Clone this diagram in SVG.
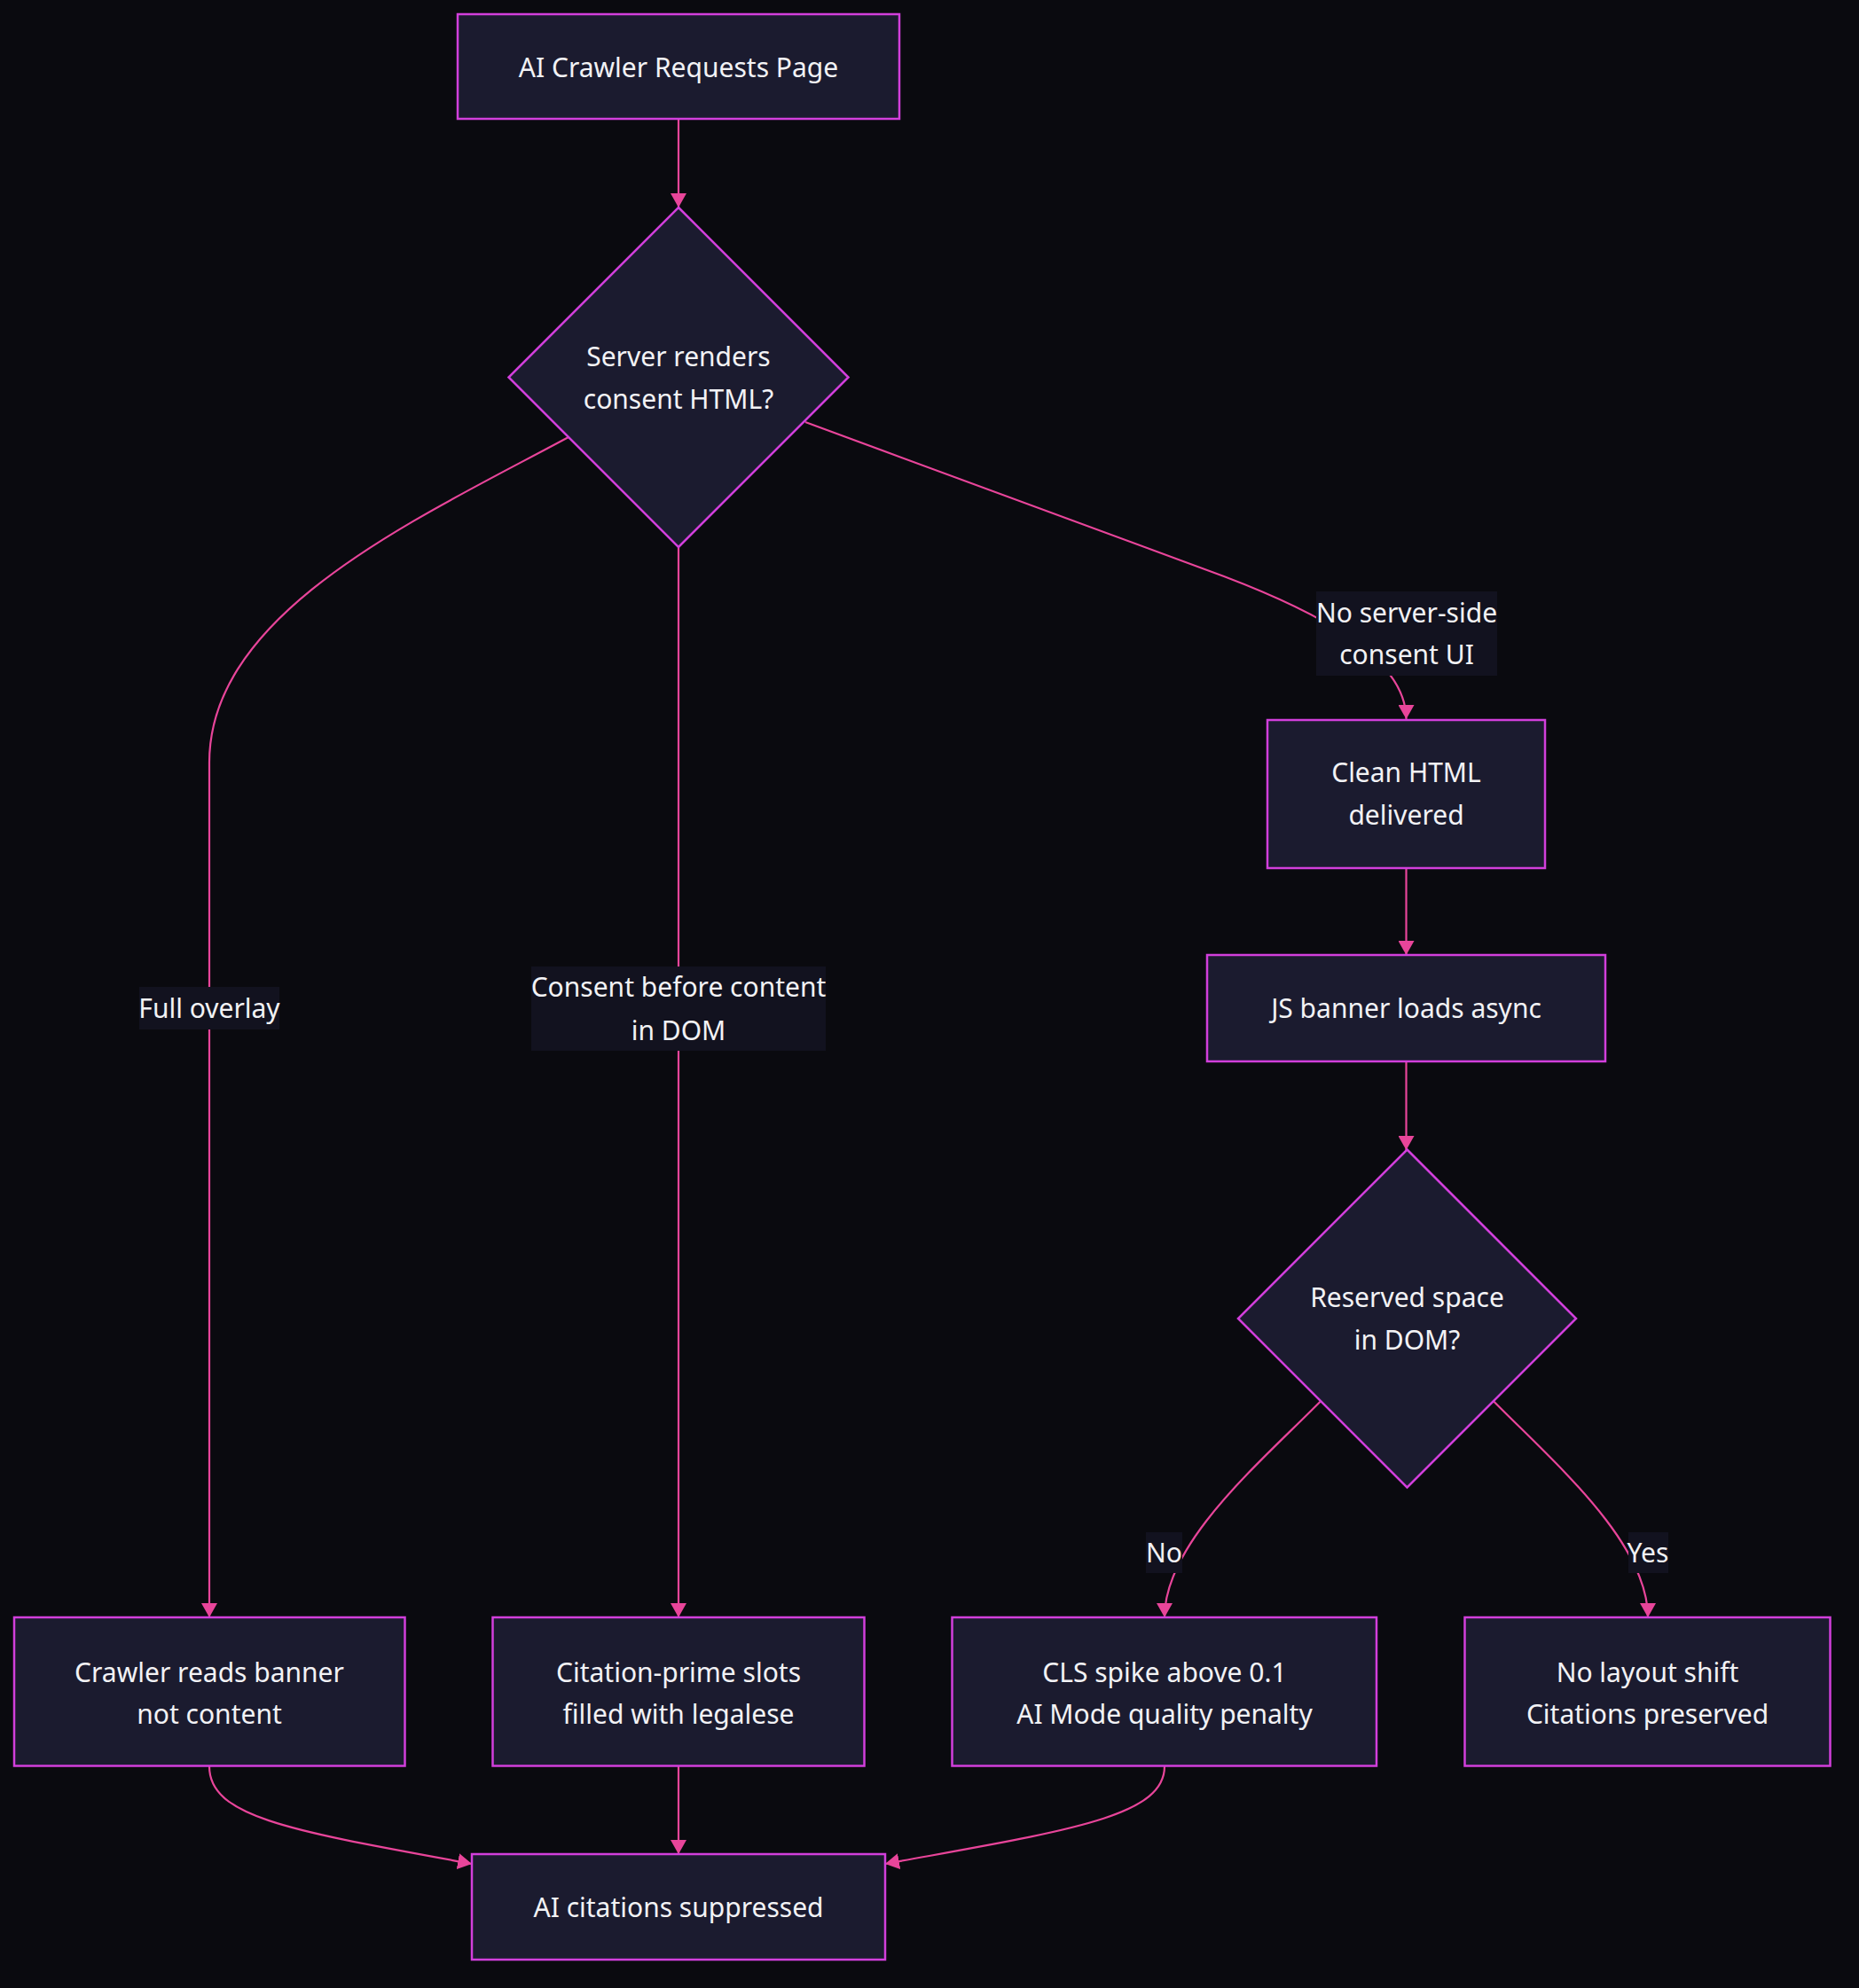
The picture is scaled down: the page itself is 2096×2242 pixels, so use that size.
<svg xmlns="http://www.w3.org/2000/svg" width="2096" height="2242" viewBox="0 0 2096 2242">
<style>
.node{fill:#1b1b2f;stroke:#d23fdc;stroke-width:2.5}
.t{font-family:"Noto Sans","Open Sans","Liberation Sans",sans-serif;font-size:30px;fill:#f2f2f5;text-anchor:middle}
.edge{fill:none;stroke:#e8459a;stroke-width:2.2}
.lbl{fill:#12121f}
</style>
<defs>
<marker id="arr" markerUnits="userSpaceOnUse" markerWidth="16" markerHeight="18" viewBox="0 0 15 17" refX="15" refY="8.5" orient="auto">
<path d="M0,0 L15,8.5 L0,17 z" fill="#e8459a"/>
</marker>
</defs>
<rect width="2096" height="2242" fill="#0a0a0f"/>
<g id="connectors">
<path class="edge" d="M765,134 L765,234" marker-end="url(#arr)"/>
<path class="edge" d="M641,493 C470,585 236,690 236,860 L236,1824" marker-end="url(#arr)"/>
<path class="edge" d="M765,617 L765,1824" marker-end="url(#arr)"/>
<path class="edge" d="M908,476 L1380,650 C1480,688 1585.5,740 1585.5,811" marker-end="url(#arr)"/>
<path class="edge" d="M1585.5,979 L1585.5,1077" marker-end="url(#arr)"/>
<path class="edge" d="M1585.5,1197 L1585.5,1297" marker-end="url(#arr)"/>
<path class="edge" d="M1488.5,1580.7 C1420,1650 1313,1740 1313,1824" marker-end="url(#arr)"/>
<path class="edge" d="M1684.5,1580.7 C1753,1650 1858,1740 1858,1824" marker-end="url(#arr)"/>
<path class="edge" d="M236,1992 C236,2050 330,2065 532,2102" marker-end="url(#arr)"/>
<path class="edge" d="M765,1992 L765,2091" marker-end="url(#arr)"/>
<path class="edge" d="M1313,1992 C1313,2050 1200,2065 998,2102" marker-end="url(#arr)"/>
<g id="edge-labels">
<rect class="lbl" x="157" y="1113" width="158" height="48"/>
<text class="t" x="236" y="1148">Full overlay</text>
<rect class="lbl" x="599" y="1090" width="332" height="95"/>
<text class="t" x="765" y="1124">Consent before content</text>
<text class="t" x="765" y="1173">in DOM</text>
<rect class="lbl" x="1484" y="667" width="204" height="95"/>
<text class="t" x="1586" y="702">No server-side</text>
<text class="t" x="1586" y="749">consent UI</text>
<rect class="lbl" x="1292" y="1728" width="41" height="46"/>
<text class="t" x="1312.5" y="1762">No</text>
<rect class="lbl" x="1836" y="1728" width="45" height="46"/>
<text class="t" x="1858" y="1762">Yes</text>
</g>
</g>
<g id="n-start">
<rect class="node" x="516" y="16" width="498" height="118"/>
<text class="t" x="765" y="87">AI Crawler Requests Page</text>
</g>
<g id="n-server">
<polygon class="node" points="765,234 956.5,425.5 765,617 573.5,425.5"/>
<text class="t" x="765" y="413">Server renders</text>
<text class="t" x="765" y="461">consent HTML?</text>
</g>
<g id="n-clean">
<rect class="node" x="1429" y="812" width="313" height="167"/>
<text class="t" x="1585.5" y="882">Clean HTML</text>
<text class="t" x="1585.5" y="930">delivered</text>
</g>
<g id="n-js">
<rect class="node" x="1361" y="1077" width="449" height="120"/>
<text class="t" x="1585.5" y="1148">JS banner loads async</text>
</g>
<g id="n-reserved">
<polygon class="node" points="1586.5,1296.5 1777,1487 1586.5,1677.5 1396,1487"/>
<text class="t" x="1586.5" y="1474">Reserved space</text>
<text class="t" x="1586.5" y="1522">in DOM?</text>
</g>
<g id="n-crawler">
<rect class="node" x="16" y="1824" width="440.5" height="167.5"/>
<text class="t" x="236" y="1897">Crawler reads banner</text>
<text class="t" x="236" y="1944">not content</text>
</g>
<g id="n-citation">
<rect class="node" x="555.5" y="1824" width="419" height="167.5"/>
<text class="t" x="765" y="1897">Citation-prime slots</text>
<text class="t" x="765" y="1944">filled with legalese</text>
</g>
<g id="n-cls">
<rect class="node" x="1073.5" y="1824" width="478.5" height="167.5"/>
<text class="t" x="1313" y="1897">CLS spike above 0.1</text>
<text class="t" x="1313" y="1944">AI Mode quality penalty</text>
</g>
<g id="n-nolayout">
<rect class="node" x="1651.5" y="1824" width="412" height="167.5"/>
<text class="t" x="1857.5" y="1897">No layout shift</text>
<text class="t" x="1857.5" y="1944">Citations preserved</text>
</g>
<g id="n-suppressed">
<rect class="node" x="532" y="2091" width="466" height="119"/>
<text class="t" x="765" y="2162">AI citations suppressed</text>
</g>
</svg>
